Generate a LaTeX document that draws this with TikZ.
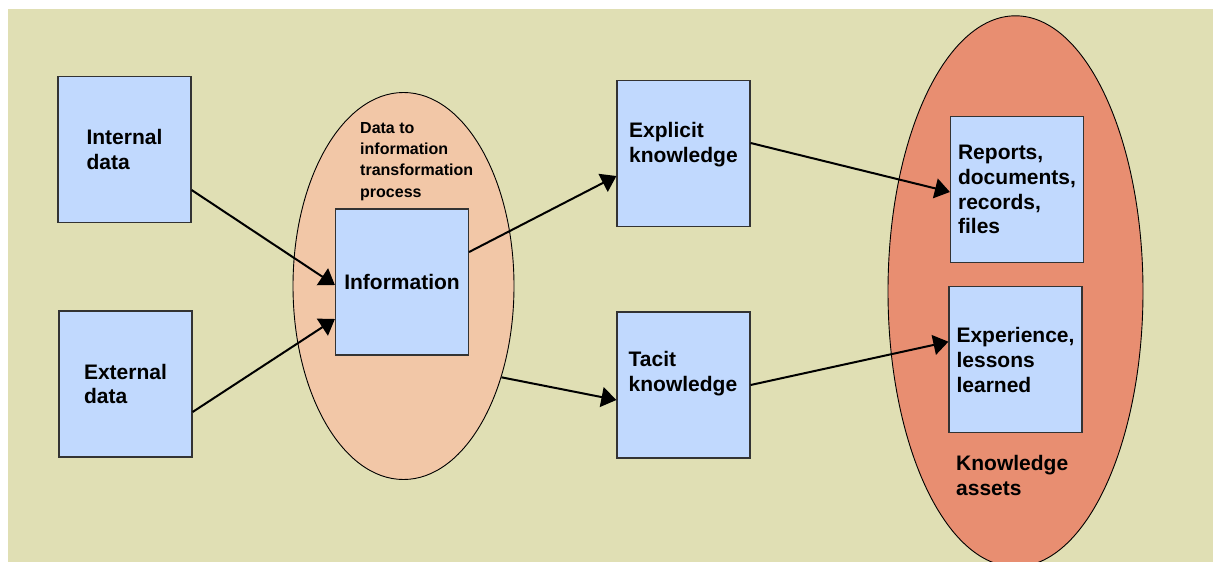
\documentclass[tikz,border=0pt]{standalone}
\usepackage{fontspec}
\setmainfont{Liberation Sans}
\usetikzlibrary{arrows.meta,shapes.geometric}
\definecolor{bgbeige}{RGB}{224,223,180}
\definecolor{boxblue}{RGB}{193,217,254}
\definecolor{peach}{RGB}{242,199,167}
\definecolor{salmon}{RGB}{232,142,113}

\begin{document}
\begin{tikzpicture}[x=1pt,y=-1pt,
  txt/.style={font=\bfseries\fontsize{21}{24.8}\selectfont},
  box/.style={txt, draw=black!80, line width=1.2pt, fill=boxblue,
    minimum width=133pt, minimum height=146pt, inner sep=0pt, align=left},
  boxtext/.style={txt, inner sep=0pt, align=left, anchor=north west},
  zone/.style={ellipse, draw=black, line width=0.9pt, inner sep=0pt},
  flow/.style={line width=2pt, -{Triangle[length=15pt,width=20pt]}}]

\clip (0,0) rectangle (1213,562);
\useasboundingbox (0,0) rectangle (1213,562);
\fill[bgbeige] (8,9) rectangle (1213,562);

% grouping ellipses
\node[zone, fill=peach, minimum width=221pt, minimum height=387pt] (proc) at (403.5,286) {};
\node[zone, fill=salmon, minimum width=255pt, minimum height=551pt] (assets) at (1015.5,291.3) {};

% ellipse captions
\node[inner sep=0pt, align=left, anchor=north west,
      font=\bfseries\fontsize{16}{21.4}\selectfont] (proclbl) at (360,121.8)
  {Data to\\information\\transformation\\process};
\node[boxtext] (assetslbl) at (956,455.3) {Knowledge\\assets};

% data sources
\node[box] (int) at (124.5,149.5) {Internal\\data};
\node[box] (ext) at (125.5,384) {External\\data};

% information
\node[box] (info) at (402,282) {Information};

% knowledge types
\node[box] (expl) at (683.5,153.5) {};
\node[boxtext] (explT) at (629,121.8) {Explicit\\knowledge};
\node[box] (tac) at (683.5,385) {};
\node[boxtext] (tacT) at (628.5,351) {Tacit\\knowledge};

% knowledge assets
\node[box] (rep) at (1017,189.5) {Reports,\\documents,\\records,\\files};
\node[box] (expr) at (1015.5,359.7) {Experience,\\lessons\\learned};

% flows
\draw[flow] ([yshift=-40.5pt]int.east) -- ([yshift=-3pt]info.west);
\draw[flow] ([yshift=-28pt]ext.east) -- ([yshift=-37pt]info.west);
\draw[flow] ([yshift=30pt]info.east) -- ([yshift=-22.5pt]expl.west);
\draw[flow] (proc.-43.3) -- ([yshift=-15pt]tac.west);
\draw[flow] ([yshift=10.5pt]expl.east) -- ([yshift=-2.5pt]rep.west);
\draw[flow] (tac.east) -- ([yshift=18pt]expr.west);
\end{tikzpicture}
\end{document}
